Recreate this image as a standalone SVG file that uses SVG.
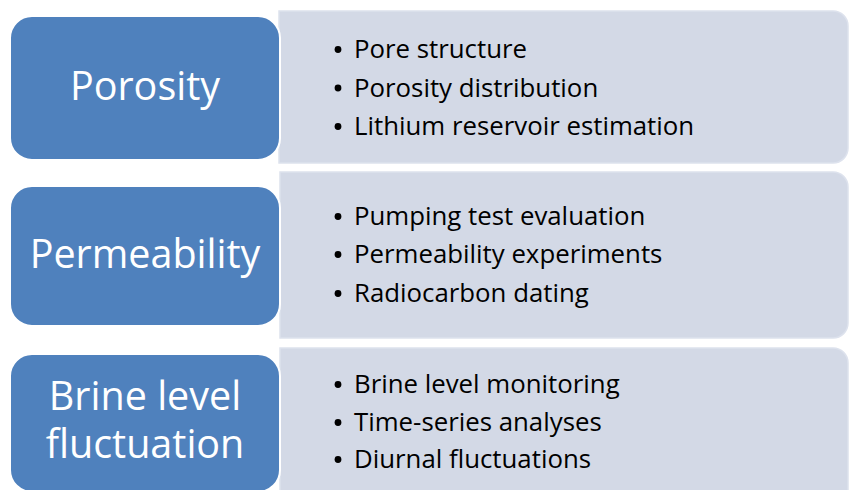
<svg xmlns="http://www.w3.org/2000/svg" width="850" height="490" viewBox="0 0 850 490">
<style>
.panel{fill:#d3d9e6;stroke:#dde2ed;stroke-width:1.5}
.head{fill:#4f81bd;stroke:#ffffff;stroke-width:2}
.ht{font-family:"Open Sans","Liberation Sans",sans-serif;font-size:39.5px;fill:#ffffff;text-anchor:middle}
.it{font-family:"Open Sans","Liberation Sans",sans-serif;font-size:25.8px;fill:#000000}
.dot{fill:#000000}
</style>
<rect width="850" height="490" fill="#ffffff"/>
<g id="node-porosity">
<path class="panel" d="M279,11 H833 A15,15 0 0 1 848,26 V148 A15,15 0 0 1 833,163 H279 Z"/>
<rect class="head" x="10" y="16" width="270" height="144" rx="22"/>
<text class="ht" x="145" y="100">Porosity</text>
<circle class="dot" cx="338" cy="49.5" r="3.4"/>
<text class="it" x="354" y="58">Pore structure</text>
<circle class="dot" cx="338" cy="88" r="3.4"/>
<text class="it" x="354" y="96.5">Porosity distribution</text>
<circle class="dot" cx="338" cy="126.5" r="3.4"/>
<text class="it" x="354" y="135">Lithium reservoir estimation</text>
</g>
<g id="node-permeability">
<path class="panel" d="M280,172 H833 A15,15 0 0 1 848,187 V323 A15,15 0 0 1 833,338 H280 Z"/>
<rect class="head" x="10" y="186" width="270" height="140" rx="22"/>
<text class="ht" x="145" y="268">Permeability</text>
<circle class="dot" cx="338" cy="216.5" r="3.4"/>
<text class="it" x="354" y="225">Pumping test evaluation</text>
<circle class="dot" cx="338" cy="254.5" r="3.4"/>
<text class="it" x="354" y="263">Permeability experiments</text>
<circle class="dot" cx="338" cy="293.5" r="3.4"/>
<text class="it" x="354" y="302">Radiocarbon dating</text>
</g>
<g id="node-brine">
<path class="panel" d="M280,348 H833 A15,15 0 0 1 848,363 V500 H280 Z"/>
<rect class="head" x="10" y="354" width="270" height="138" rx="22"/>
<text class="ht" x="145" y="410">Brine level</text>
<text class="ht" x="145" y="458">fluctuation</text>
<circle class="dot" cx="338" cy="384.5" r="3.4"/>
<text class="it" x="354" y="393">Brine level monitoring</text>
<circle class="dot" cx="338" cy="422.5" r="3.4"/>
<text class="it" x="354" y="431">Time-series analyses</text>
<circle class="dot" cx="338" cy="459.5" r="3.4"/>
<text class="it" x="354" y="468">Diurnal fluctuations</text>
</g>
<g id="connectors"></g>
</svg>
